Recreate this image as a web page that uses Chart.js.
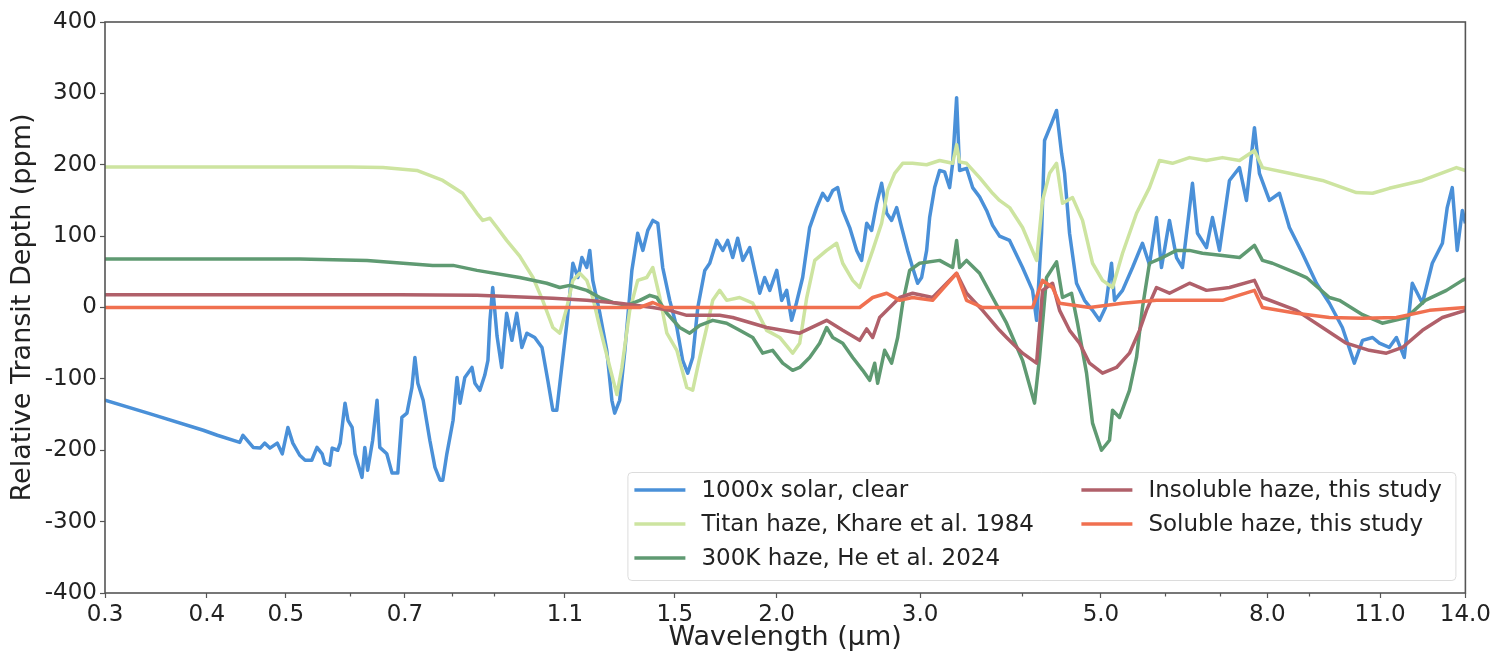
<!DOCTYPE html>
<html>
<head>
<meta charset="utf-8">
<title>Relative transit depth</title>
<script src="https://cdn.jsdelivr.net/npm/chart.js@4.4.1/dist/chart.umd.min.js"></script>
<style>
  html, body { margin: 0; padding: 0; background: #fff; }
  #chart { display: block; }
</style>
</head>
<body>
<canvas id="chart" width="1494" height="654"></canvas>
<script>
// [wavelength (um), relative transit depth (ppm)]
const clearSolar = [
  [0.300,-130],[0.341,-149],[0.396,-172],[0.412,-179],[0.439,-189],[0.443,-179],[0.456,-196],[0.465,-197],
  [0.471,-190],[0.478,-197],[0.488,-190],[0.495,-205],[0.503,-168],[0.510,-190],[0.520,-207],[0.528,-214],
  [0.538,-214],[0.546,-196],[0.554,-205],[0.558,-218],[0.566,-221],[0.570,-197],[0.579,-200],[0.583,-190],
  [0.591,-134],[0.596,-158],[0.603,-168],[0.608,-205],[0.620,-238],[0.625,-196],[0.630,-228],[0.639,-186],
  [0.647,-130],[0.652,-196],[0.665,-205],[0.675,-232],[0.686,-232],[0.694,-154],[0.704,-148],[0.714,-112],
  [0.720,-70],[0.726,-106],[0.737,-130],[0.751,-186],[0.762,-224],[0.773,-242],[0.779,-242],[0.788,-205],
  [0.802,-158],[0.811,-98],[0.818,-134],[0.829,-98],[0.846,-84],[0.853,-106],[0.865,-116],[0.877,-95],
  [0.885,-74],[0.890,-18],[0.897,28],[0.908,-40],[0.920,-84],[0.933,-8],[0.947,-46],[0.960,-8],
  [0.974,-56],[0.988,-36],[1.010,-42],[1.031,-56],[1.048,-102],[1.063,-144],[1.075,-144],[1.090,-84],
  [1.106,-22],[1.125,62],[1.141,42],[1.154,70],[1.170,56],[1.180,80],[1.190,38],[1.214,-8],
  [1.238,-60],[1.256,-130],[1.266,-148],[1.284,-130],[1.303,-60],[1.329,52],[1.351,104],[1.371,80],
  [1.390,108],[1.410,122],[1.430,118],[1.450,56],[1.479,10],[1.509,-28],[1.534,-74],[1.556,-92],
  [1.578,-70],[1.601,0],[1.633,52],[1.656,62],[1.689,94],[1.718,80],[1.742,94],[1.767,70],
  [1.792,97],[1.818,66],[1.854,84],[1.880,52],[1.907,20],[1.934,42],[1.962,24],[2.001,52],
  [2.029,10],[2.058,24],[2.087,-18],[2.115,6],[2.153,42],[2.196,112],[2.240,140],[2.278,160],
  [2.311,150],[2.344,164],[2.377,168],[2.411,136],[2.459,112],[2.508,80],[2.543,66],[2.580,118],
  [2.616,108],[2.654,146],[2.691,174],[2.730,132],[2.768,122],[2.808,140],[2.848,112],[2.896,80],
  [2.937,56],[2.979,34],[3.013,42],[3.056,80],[3.082,126],[3.126,168],[3.170,192],[3.215,190],
  [3.261,168],[3.289,202],[3.326,294],[3.354,192],[3.421,195],[3.480,168],[3.549,155],[3.620,136],
  [3.682,115],[3.755,100],[3.863,94],[4.007,56],[4.122,24],[4.169,-18],[4.228,104],[4.264,234],
  [4.349,258],[4.411,276],[4.474,216],[4.512,188],[4.576,104],[4.667,34],[4.774,10],[4.883,-4],
  [4.980,-18],[5.065,0],[5.152,62],[5.196,10],[5.315,24],[5.467,56],[5.623,90],[5.735,60],
  [5.850,126],[5.933,56],[6.068,122],[6.190,70],[6.295,56],[6.476,174],[6.568,104],[6.737,84],
  [6.852,126],[6.989,80],[7.189,178],[7.395,196],[7.542,150],[7.715,252],[7.824,188],[8.048,150],
  [8.279,160],[8.516,112],[8.834,76],[9.191,34],[9.534,6],[9.890,-28],[10.23,-78],[10.47,-46],
  [10.77,-42],[10.98,-50],[11.29,-56],[11.52,-42],[11.78,-70],[12.05,34],[12.40,6],[12.75,62],
  [13.12,90],[13.30,140],[13.49,168],[13.68,80],[13.88,136],[14.0,118]
];

const titanHaze = [
  [0.300,197],[0.520,197],[0.599,197],[0.658,196],[0.724,192],[0.779,178],[0.824,160],[0.858,132],
  [0.872,122],[0.890,125],[0.908,112],[0.933,94],[0.968,72],[1.005,42],[1.033,10],[1.063,-28],
  [1.084,-36],[1.106,0],[1.125,38],[1.147,48],[1.170,38],[1.190,14],[1.214,-28],[1.249,-84],
  [1.274,-122],[1.292,-84],[1.321,-4],[1.351,38],[1.386,42],[1.410,56],[1.438,14],[1.467,-36],
  [1.509,-60],[1.552,-112],[1.578,-116],[1.610,-70],[1.642,-28],[1.670,10],[1.703,24],[1.737,10],
  [1.802,14],[1.870,6],[1.945,-32],[2.018,-42],[2.093,-64],[2.135,-50],[2.178,14],[2.228,66],
  [2.304,80],[2.370,90],[2.411,62],[2.480,38],[2.529,28],[2.580,56],[2.624,80],[2.691,118],
  [2.737,164],[2.792,188],[2.856,202],[2.937,202],[3.056,200],[3.170,206],[3.289,202],[3.326,228],
  [3.354,204],[3.421,202],[3.549,182],[3.682,160],[3.755,150],[3.863,140],[4.007,112],[4.169,66],
  [4.240,150],[4.325,188],[4.411,202],[4.486,146],[4.615,154],[4.747,122],[4.883,62],[5.023,38],
  [5.167,28],[5.315,76],[5.529,132],[5.735,168],[5.900,206],[6.120,202],[6.421,210],[6.737,206],
  [7.048,210],[7.395,206],[7.715,220],[7.891,196],[8.516,188],[9.348,178],[10.29,161],[10.77,160],
  [11.29,167],[12.40,178],[13.65,196],[14.0,192]
];

const he2024Haze = [
  [0.300,68],[0.520,68],[0.629,66],[0.757,59],[0.802,59],[0.858,52],[0.968,42],[1.045,34],
  [1.084,28],[1.115,31],[1.170,24],[1.214,14],[1.259,7],[1.310,3],[1.359,10],[1.398,17],
  [1.426,14],[1.467,-8],[1.521,-28],[1.565,-36],[1.610,-25],[1.670,-18],[1.737,-22],[1.802,-32],
  [1.870,-42],[1.923,-64],[1.978,-60],[2.035,-78],[2.093,-88],[2.135,-84],[2.196,-70],[2.259,-50],
  [2.304,-28],[2.344,-42],[2.411,-50],[2.480,-70],[2.551,-88],[2.602,-102],[2.639,-78],[2.661,-106],
  [2.714,-60],[2.768,-78],[2.816,-42],[2.856,6],[2.913,52],[2.996,62],[3.170,66],[3.289,56],
  [3.326,94],[3.354,56],[3.421,66],[3.549,48],[3.682,14],[3.830,-22],[4.007,-74],[4.145,-134],
  [4.204,-70],[4.288,42],[4.411,64],[4.486,14],[4.602,20],[4.680,-22],[4.801,-92],[4.883,-162],
  [5.008,-200],[5.123,-186],[5.167,-144],[5.270,-154],[5.420,-116],[5.529,-70],[5.623,0],[5.735,62],
  [5.950,70],[6.190,80],[6.421,80],[6.661,76],[7.048,73],[7.395,70],[7.715,87],[7.891,66],
  [8.117,62],[8.686,48],[8.935,42],[9.534,14],[9.807,10],[10.47,-10],[11.07,-22],[11.85,-14],
  [12.50,10],[13.27,24],[13.88,38],[14.0,40]
];

const insolubleHaze = [
  [0.300,18],[0.690,18],[0.858,17],[1.063,13],[1.170,10],[1.284,6],[1.410,0],[1.479,-4],
  [1.552,-11],[1.703,-11],[1.767,-14],[1.945,-28],[2.135,-36],[2.304,-18],[2.411,-32],[2.529,-46],
  [2.580,-30],[2.624,-42],[2.676,-14],[2.753,0],[2.832,14],[2.937,20],[3.108,14],[3.326,48],
  [3.421,20],[3.579,-4],[3.755,-32],[3.830,-42],[4.007,-64],[4.169,-78],[4.240,24],[4.361,34],
  [4.449,-4],[4.576,-32],[4.707,-50],[4.842,-78],[5.023,-92],[5.225,-84],[5.420,-64],[5.576,-32],
  [5.687,-4],[5.850,28],[6.068,20],[6.421,34],[6.737,24],[7.189,28],[7.715,38],[7.891,14],
  [8.686,-4],[9.348,-28],[10.00,-50],[10.67,-60],[11.20,-64],[11.72,-56],[12.40,-32],[13.12,-14],
  [14.0,-4]
];

const solubleHaze = [
  [0.300,0],[1.359,0],[1.410,7],[1.458,0],[2.529,0],[2.624,14],[2.730,20],[2.832,10],
  [2.937,14],[3.108,10],[3.326,48],[3.421,10],[3.579,0],[4.122,0],[4.240,38],[4.361,28],
  [4.449,6],[4.842,0],[5.315,6],[5.850,10],[6.421,10],[7.048,10],[7.715,24],[7.891,0],
  [8.686,-8],[9.534,-14],[10.47,-15],[11.52,-14],[12.65,-4],[14.0,0]
];

const seriesLabels = [
  '1000x solar, clear',
  'Titan haze, Khare et al. 1984',
  '300K haze, He et al. 2024',
  'Insoluble haze, this study',
  'Soluble haze, this study'
];
const seriesColors = ['#4a90d8', '#cde4a0', '#5f9a72', '#b0606a', '#f07050'];

const xTicks = [0.3, 0.4, 0.5, 0.7, 1.1, 1.5, 2.0, 3.0, 5.0, 8.0, 11.0, 14.0];
const xMinorTicks = [0.6, 0.8, 0.9, 4, 6, 7, 9];
const yTicks = [-400, -300, -200, -100, 0, 100, 200, 300, 400];

const FONT = '"DejaVu Sans", "Liberation Sans", sans-serif';
const TEXT = '#222';
const AXIS = '#555';

const toPoints = rows => rows.map(([x, y]) => ({ x, y }));
const allSeries = [clearSolar, titanHaze, he2024Haze, insolubleHaze, solubleHaze];

const framePlugin = {
  id: 'frame',
  afterDatasetsDraw(chart) {
    const { ctx, chartArea: a, scales: { x } } = chart;
    ctx.save();
    ctx.strokeStyle = AXIS;
    ctx.lineWidth = 1.2;
    xMinorTicks.forEach(v => {
      const px = Math.round(x.getPixelForValue(v)) + 0.5;
      ctx.beginPath();
      ctx.moveTo(px, a.bottom);
      ctx.lineTo(px, a.bottom + 3.5);
      ctx.stroke();
    });
    ctx.lineWidth = 1.6;
    ctx.strokeRect(a.left, a.top, a.right - a.left, a.bottom - a.top);
    ctx.restore();
  }
};

// matplotlib-like two column legend in the lower right corner
const legendPlugin = {
  id: 'boxLegend',
  afterDraw(chart) {
    const { ctx, chartArea: a } = chart;
    const w = 828, h = 108;
    const x0 = a.right - 10 - w;
    const y0 = a.bottom - 13 - h;
    ctx.save();
    ctx.fillStyle = 'rgba(255,255,255,0.85)';
    ctx.strokeStyle = '#dcdcdc';
    ctx.lineWidth = 1;
    ctx.beginPath();
    ctx.roundRect(x0 + 0.5, y0 + 0.5, w, h, 4);
    ctx.fill();
    ctx.stroke();
    ctx.font = '23px ' + FONT;
    ctx.textBaseline = 'middle';
    chart.data.datasets.forEach((ds, i) => {
      const col = i < 3 ? 0 : 1;
      const row = i < 3 ? i : i - 3;
      const lx = x0 + 7 + col * 447;
      const ly = y0 + 18 + row * 34;
      ctx.strokeStyle = ds.borderColor;
      ctx.lineWidth = 3.5;
      ctx.beginPath();
      ctx.moveTo(lx, ly);
      ctx.lineTo(lx + 51, ly);
      ctx.stroke();
      ctx.fillStyle = TEXT;
      ctx.fillText(ds.label, lx + 67, ly + 1);
    });
    ctx.restore();
  }
};

new Chart(document.getElementById('chart'), {
  type: 'line',
  data: {
    datasets: allSeries.map((rows, i) => ({
      label: seriesLabels[i],
      data: toPoints(rows),
      borderColor: seriesColors[i],
      borderWidth: 3.5,
      pointRadius: 0,
      tension: 0,
      borderJoinStyle: 'round',
      order: allSeries.length - i
    }))
  },
  options: {
    responsive: false,
    animation: false,
    devicePixelRatio: 1,
    layout: { padding: { left: 0, right: 28, top: 22, bottom: 0 } },
    plugins: {
      legend: { display: false },
      tooltip: { enabled: false }
    },
    scales: {
      x: {
        type: 'logarithmic',
        min: 0.3,
        max: 14,
        border: { display: false },
        grid: { drawOnChartArea: false, drawTicks: true, tickLength: 5, tickColor: AXIS, tickWidth: 1.2 },
        ticks: {
          autoSkip: false,
          maxRotation: 0,
          padding: 3,
          color: TEXT,
          font: { family: FONT, size: 23 },
          callback: v => Number(v).toFixed(1)
        },
        afterBuildTicks: s => { s.ticks = xTicks.map(v => ({ value: v })); },
        afterFit: s => { s.height = 61; },
        title: {
          display: true,
          text: 'Wavelength (μm)',
          color: TEXT,
          font: { family: FONT, size: 27 },
          padding: { top: 0, bottom: 0 }
        }
      },
      y: {
        type: 'linear',
        min: -400,
        max: 400,
        border: { display: false },
        grid: { drawOnChartArea: false, drawTicks: true, tickLength: 5, tickColor: AXIS, tickWidth: 1.2 },
        ticks: {
          stepSize: 100,
          padding: 3,
          color: TEXT,
          font: { family: FONT, size: 23 }
        },
        afterBuildTicks: s => { s.ticks = yTicks.map(v => ({ value: v })); },
        afterFit: s => { s.width = 105; },
        title: {
          display: true,
          text: 'Relative Transit Depth (ppm)',
          color: TEXT,
          font: { family: FONT, size: 27 },
          padding: { top: 7, bottom: 0 }
        }
      }
    }
  },
  plugins: [framePlugin, legendPlugin]
});
</script>
</body>
</html>
